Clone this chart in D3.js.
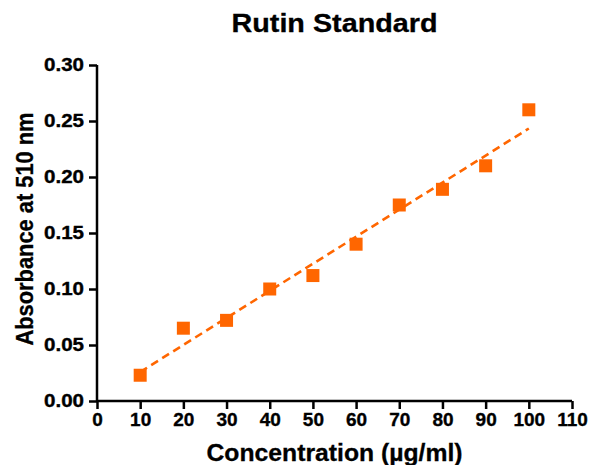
<!DOCTYPE html>
<html><head><meta charset="utf-8">
<script src="https://cdn.jsdelivr.net/npm/d3@7"></script>
<style>body{margin:0;background:#fff}svg{display:block}text{font-family:"Liberation Sans",Arial,sans-serif;font-weight:bold}</style>
</head><body><svg id="c" width="590" height="465"></svg>
<script>
const concentration = [10,20,30,40,50,60,70,80,90,100];
const absorbance = [0.023,0.065,0.072,0.100,0.112,0.140,0.175,0.189,0.210,0.260];
const xTicks = [0,10,20,30,40,50,60,70,80,90,100,110];
const yTicks = [0,0.05,0.10,0.15,0.20,0.25,0.30];
const title = "Rutin Standard";
const xTitle = "Concentration (\u00b5g/ml)";
const yTitle = "Absorbance at 510 nm";

(function(){
const svg = d3.select("#c");
const mL=97, mR=572, mT=65, mB=401;
const x = d3.scaleLinear().domain([0,110]).range([mL,mR]);
const y = d3.scaleLinear().domain([0,0.30]).range([mB,mT]);
const color = "#FF6600";

// least squares fit
const mx = d3.mean(concentration), my = d3.mean(absorbance);
let sxy=0,sxx=0;
concentration.forEach((c,i)=>{sxy+=(c-mx)*(absorbance[i]-my);sxx+=(c-mx)*(c-mx);});
const slope=sxy/sxx, icpt=my-slope*mx;
const xmin=d3.min(concentration), xmax=d3.max(concentration);

svg.append("line").attr("x1",x(xmin)).attr("y1",y(icpt+slope*xmin))
  .attr("x2",x(xmax)).attr("y2",y(icpt+slope*xmax))
  .attr("stroke",color).attr("stroke-width",2.6).attr("stroke-dasharray","8,5");

svg.selectAll("rect.pt").data(concentration).join("rect").attr("class","pt")
  .attr("x",(d)=>x(d)-6.5).attr("y",(d,i)=>y(absorbance[i])-6.5)
  .attr("width",13).attr("height",13).attr("fill",color);

const xAxis = svg.append("g").attr("transform",`translate(0,${mB})`)
  .call(d3.axisBottom(x).tickValues(xTicks).tickSize(8).tickSizeOuter(0).tickPadding(4).tickFormat(d3.format("d")));
const yAxis = svg.append("g").attr("transform",`translate(${mL},0)`)
  .call(d3.axisLeft(y).tickValues(yTicks).tickSize(8).tickSizeOuter(0).tickPadding(5).tickFormat(d3.format(".2f")));
[xAxis,yAxis].forEach(g=>{
  g.selectAll("path,line").attr("stroke","#000").attr("stroke-width",2.5);
  g.selectAll("text").attr("fill","#000").attr("stroke","#000").attr("stroke-width",0.35)
    .style("font-family","'Liberation Sans',Arial,sans-serif").style("font-weight","bold");
});
xAxis.selectAll("text").style("font-size","19px");
yAxis.selectAll("text").style("font-size","17.5px").attr("textLength",40).attr("lengthAdjust","spacingAndGlyphs");
xAxis.select(".domain").attr("d",`M${mL},0H${mR}`);
yAxis.select(".domain").attr("d",`M0,${mB+1}V${mT}`);

svg.append("text").attr("x",334.5).attr("y",32).attr("text-anchor","middle").style("font-size","25px")
  .attr("stroke","#000").attr("stroke-width",0.3)
  .attr("textLength",206).attr("lengthAdjust","spacingAndGlyphs").text(title);
svg.append("text").attr("x",334.5).attr("y",461).attr("text-anchor","middle").style("font-size","24px")
  .attr("stroke","#000").attr("stroke-width",0.3)
  .attr("textLength",256).attr("lengthAdjust","spacingAndGlyphs").text(xTitle);
svg.append("text").attr("transform","translate(33,229) rotate(-90)").attr("text-anchor","middle").style("font-size","23px")
  .attr("stroke","#000").attr("stroke-width",0.3)
  .attr("textLength",233).attr("lengthAdjust","spacingAndGlyphs").text(yTitle);
})();
</script></body></html>
